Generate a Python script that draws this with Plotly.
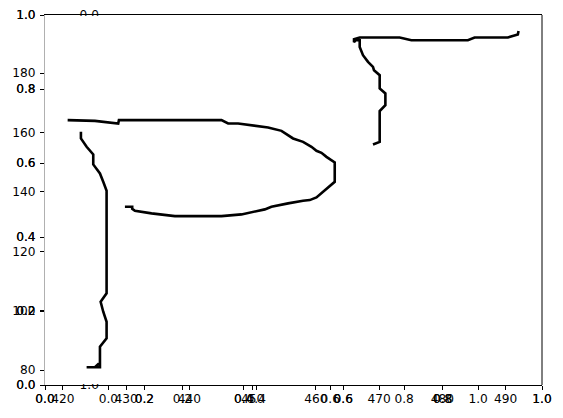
import plotly.graph_objects as go

# ---- data (contour paths in data units of the 420-490 / 80-180 axes) ----
path1_x = [420.74, 425.06, 428.74, 428.85, 445.07, 446.12, 447.70, 452.44, 454.56, 455.87,
           456.39, 457.97, 459.30, 460.09, 460.88, 461.67, 462.46, 462.98, 462.98, 462.19,
           461.13, 460.09, 459.03, 457.97, 455.60, 452.97, 451.92, 450.34, 448.23, 445.07,
           437.70, 434.01, 431.38, 430.95, 430.95, 429.80]
path1_y = [164.18, 163.94, 163.06, 164.18, 164.18, 163.06, 163.06, 161.72, 160.57, 158.55,
           158.01, 156.87, 155.19, 153.84, 153.16, 151.82, 150.71, 149.93, 143.40, 141.95,
           140.03, 138.15, 137.24, 137.00, 136.13, 134.98, 134.11, 133.30, 132.42, 131.85,
           131.85, 132.76, 133.64, 134.31, 134.98, 134.98]

path2_x = [422.84, 422.84, 423.74, 424.79, 424.79, 425.85, 426.37, 426.90, 426.90, 425.96,
           426.37, 426.90, 426.90, 426.11, 425.85, 425.85, 425.85, 425.06, 425.69, 425.06,
           423.74]
path2_y = [160.24, 158.01, 155.19, 152.63, 149.26, 146.23, 143.40, 140.37, 105.82, 103.00,
           99.63, 96.26, 90.67, 88.42, 87.85, 83.37, 80.91, 80.91, 82.19, 80.91,
           80.91]

path3_x = [492.05, 491.94, 490.36, 485.10, 484.04, 475.10, 473.25, 466.93, 466.03, 466.03,
           466.29, 466.93, 466.93, 467.45, 468.24, 469.03, 469.19, 470.09, 470.09, 470.99,
           470.99, 470.09, 470.09, 469.03]
path3_y = [194.24, 193.03, 192.02, 192.02, 191.11, 191.11, 192.02, 192.02, 191.45, 190.44,
           191.11, 191.11, 188.86, 186.06, 183.80, 182.12, 181.01, 179.33, 174.85, 173.17,
           169.23, 167.21, 156.87, 155.99]

unit_ticks = [0.0, 0.2, 0.4, 0.6, 0.8, 1.0]
unit_labels = ["0.0", "0.2", "0.4", "0.6", "0.8", "1.0"]
data_x_ticks = [420, 430, 440, 450, 460, 470, 480, 490]
data_y_ticks = [80, 100, 120, 140, 160, 180]
data_x_range = [417.16, 495.76]
data_y_range = [74.95, 199.6]
square_ticks_y = [0.0, 1.0]
square_labels_y = ["0.0", "1.0"]

FONT = dict(family="DejaVu Sans", size=12.2, color="black")
common = dict(showgrid=False, zeroline=False, ticks="outside", ticklen=4, tickwidth=1,
              tickcolor="black", tickfont=FONT, automargin=False)
xcommon = dict(**common, ticklabelstandoff=-2)
ycommon = dict(**common, ticklabelstandoff=2)

fig = go.Figure()

# empty traces so all axis systems are realised
fig.add_trace(go.Scatter(x=[], y=[], xaxis="x", yaxis="y", showlegend=False))
fig.add_trace(go.Scatter(x=[], y=[], xaxis="x3", yaxis="y3", showlegend=False))
fig.add_trace(go.Scatter(x=[], y=[], xaxis="x4", yaxis="y4", showlegend=False))

for px, py in [(path1_x, path1_y), (path2_x, path2_y), (path3_x, path3_y)]:
    fig.add_trace(go.Scatter(x=px, y=py, xaxis="x2", yaxis="y2", mode="lines",
                             line=dict(color="black", width=2.6), showlegend=False,
                             hoverinfo="skip"))

fig.update_layout(
    width=563, height=418,
    margin=dict(l=45, r=21, t=15, b=33, autoexpand=False),
    paper_bgcolor="white", plot_bgcolor="rgba(0,0,0,0)",
    showlegend=False,
    xaxis=dict(**xcommon, range=[0, 1], tickvals=unit_ticks, ticktext=unit_labels,
               showline=True, linecolor="black", linewidth=1, mirror=True,
               anchor="y", domain=[0, 1]),
    yaxis=dict(**ycommon, range=[0, 1], tickvals=unit_ticks, ticktext=unit_labels,
               showline=True, linecolor="#b0b0b0", linewidth=1, anchor="x", domain=[0, 1]),
    xaxis4=dict(**xcommon, range=[0, 1], tickvals=unit_ticks, ticktext=unit_labels,
                showline=False, overlaying="x", anchor="y4", side="bottom"),
    yaxis4=dict(**ycommon, range=[0, 1], tickvals=unit_ticks, ticktext=unit_labels,
                showline=False, overlaying="y", anchor="x4", side="left"),
    xaxis2=dict(**xcommon, range=data_x_range, tickvals=data_x_ticks,
                showline=False, overlaying="x", anchor="y2", side="bottom"),
    yaxis2=dict(**ycommon, range=data_y_range, tickvals=data_y_ticks,
                showline=False, overlaying="y", anchor="x2", side="left"),
    xaxis3=dict(**xcommon, range=[0, 1], tickvals=unit_ticks, ticktext=unit_labels,
                showline=False, anchor="y3", domain=[0.1276, 0.8714]),
    yaxis3=dict(showgrid=False, zeroline=False, ticks="outside", ticklen=4, automargin=False,
                tickcolor="rgba(0,0,0,0)", tickfont=FONT, ticklabelstandoff=2,
                range=[1, 0], tickvals=square_ticks_y, ticktext=square_labels_y,
                showline=False, anchor="x3", domain=[0, 1]),
    shapes=[
        # right spine
        dict(type="line", xref="paper", yref="paper", x0=1, x1=1, y0=0, y1=1,
             line=dict(color="black", width=1), layer="above"),
        # hide the parts of the square-axis labels that sit inside the plot area
        dict(type="rect", xref="paper", yref="paper", x0=0.060, x1=0.115,
             y0=0.9784, y1=0.9975, fillcolor="white", line=dict(width=0), layer="above"),
        dict(type="rect", xref="paper", yref="paper", x0=0.060, x1=0.115,
             y0=0.0025, y1=0.0189, fillcolor="white", line=dict(width=0), layer="above"),
    ],
)

fig.write_html("out.html")
